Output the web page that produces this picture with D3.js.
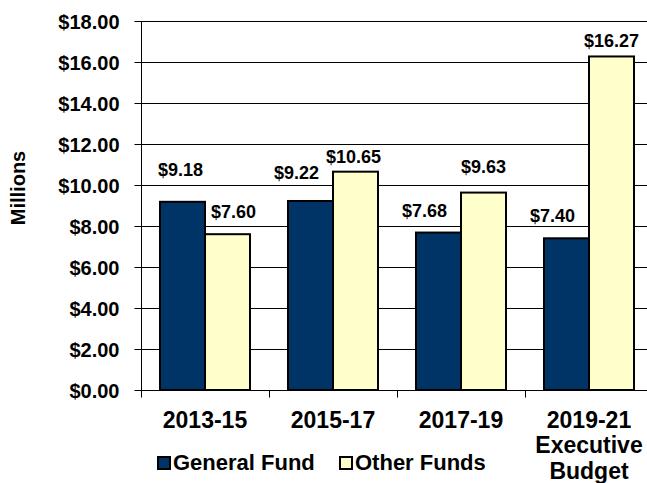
<!DOCTYPE html>
<html>
<head>
<meta charset="utf-8">
<script src="https://cdn.jsdelivr.net/npm/d3@7"></script>
<style>
  html, body { margin: 0; padding: 0; background: #fff; }
  svg { display: block; }
  text { font-family: "Liberation Sans", Arial, sans-serif; font-weight: bold; fill: #000; }
</style>
</head>
<body>
<script>
const categories = [["2013-15"], ["2015-17"], ["2017-19"], ["2019-21", "Executive", "Budget"]];
const seriesNames = ["General Fund", "Other Funds"];
const generalFund = [9.18, 9.22, 7.68, 7.40];
const otherFunds = [7.60, 10.65, 9.63, 16.27];
const yTicks = [0, 2, 4, 6, 8, 10, 12, 14, 16, 18];
const colors = ["#003366", "#FFFFCC"];
// label offsets (dx, dy in px) relative to bar centre / top, as placed in the original
const gfLabelOffset = [[-2, -26], [-14, -22], [-14, -16], [-14, -16]];
const ofLabelOffset = [[6, -16], [-2, -9], [0, -20], [0, -9]];

const W = 647, H = 483;
const svg = d3.select("body").append("svg").attr("width", W).attr("height", H);

const catKeys = categories.map(c => c.join(" "));
const x = d3.scaleBand().domain(catKeys).range([141, 653]).paddingInner(0).paddingOuter(0);
const xs = d3.scaleBand().domain(seriesNames).range([0, x.bandwidth()]).paddingInner(0).paddingOuter(0.422);
const y = d3.scaleLinear().domain([0, 18]).range([390, 21]);

// gridlines
svg.append("g").selectAll("line").data(yTicks.filter(d => d > 0)).join("line")
  .attr("x1", 141).attr("x2", 653)
  .attr("y1", d => Math.round(y(d)) + 0.5).attr("y2", d => Math.round(y(d)) + 0.5)
  .attr("stroke", "#000").attr("stroke-width", 1);

// y axis
const yAxis = d3.axisLeft(y).tickValues(yTicks).tickSize(7).tickPadding(15)
  .tickFormat(d => "$" + d3.format(".2f")(d));
const gy = svg.append("g").attr("transform", "translate(141.5,0)").call(yAxis);
gy.select(".domain").attr("stroke", "#000").attr("d", "M0," + y(18) + "V" + y(0));
gy.selectAll(".tick line").attr("stroke", "#000");
gy.selectAll(".tick text").attr("font-size", 20).attr("font-family", "Liberation Sans, Arial, sans-serif")
  .attr("font-weight", "bold").attr("fill", "#000").attr("dy", "0.36em");

// bars
const data = catKeys.map((k, i) => ({ key: k, vals: [generalFund[i], otherFunds[i]] }));
const groups = svg.append("g").selectAll("g").data(data).join("g")
  .attr("transform", d => `translate(${x(d.key)},0)`);
groups.selectAll("rect").data(d => d.vals.map((v, j) => ({ v, s: seriesNames[j], j }))).join("rect")
  .attr("x", d => xs(d.s)).attr("width", xs.bandwidth())
  .attr("y", d => y(d.v)).attr("height", d => y(0) - y(d.v))
  .attr("fill", d => colors[d.j]).attr("stroke", "#000").attr("stroke-width", 2);

// x axis
const gx = svg.append("g").attr("transform", "translate(0,390.5)");
gx.append("line").attr("x1", 141).attr("x2", 653).attr("stroke", "#000");
gx.selectAll("line.t").data(d3.range(catKeys.length + 1)).join("line").attr("class", "t")
  .attr("x1", i => 141 + i * x.step() + 0.5).attr("x2", i => 141 + i * x.step() + 0.5)
  .attr("y1", 0).attr("y2", 7).attr("stroke", "#000");
const cl = gx.selectAll("text.cat").data(categories).join("text").attr("class", "cat")
  .attr("x", (d, i) => x(catKeys[i]) + x.bandwidth() / 2)
  .attr("y", 37).attr("text-anchor", "middle").attr("font-size", 23);
cl.selectAll("tspan").data(d => d).join("tspan")
  .attr("x", function () { return d3.select(this.parentNode).attr("x"); })
  .attr("dy", (d, i) => i === 0 ? 0 : 25.5).text(d => d);

// data labels
const fmt = v => "$" + d3.format(".2f")(v);
catKeys.forEach((k, i) => {
  [generalFund, otherFunds].forEach((arr, j) => {
    const off = j === 0 ? gfLabelOffset[i] : ofLabelOffset[i];
    svg.append("text")
      .attr("x", x(k) + xs(seriesNames[j]) + xs.bandwidth() / 2 + off[0])
      .attr("y", y(arr[i]) + off[1])
      .attr("text-anchor", "middle").attr("font-size", 18).text(fmt(arr[i]));
  });
});

// y axis title
svg.append("text").attr("transform", "translate(25,188) rotate(-90)")
  .attr("text-anchor", "middle").attr("font-size", 20).text("Millions");

// legend
const legX = [158, 340];
seriesNames.forEach((s, j) => {
  svg.append("rect").attr("x", legX[j]).attr("y", 457).attr("width", 12).attr("height", 12)
    .attr("fill", colors[j]).attr("stroke", "#000").attr("stroke-width", 2);
  svg.append("text").attr("x", legX[j] + 15).attr("y", 470).attr("font-size", 22).text(s);
});
</script>
</body>
</html>
